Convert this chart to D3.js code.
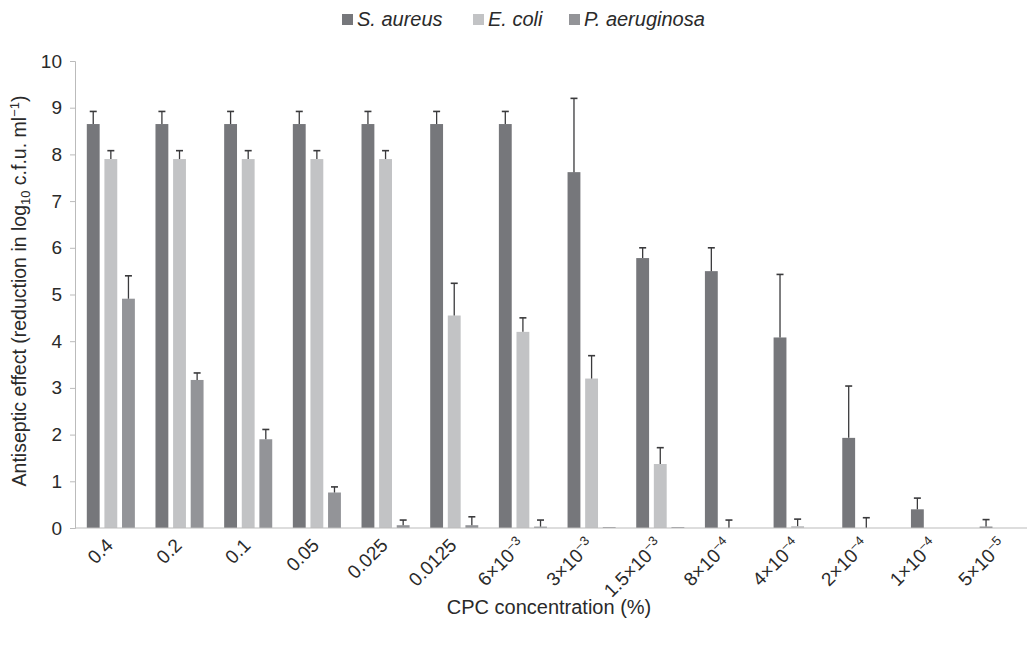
<!DOCTYPE html>
<html><head><meta charset="utf-8">
<script src="https://cdn.jsdelivr.net/npm/d3@7"></script>
<style>body{margin:0;background:#fff;} text{font-family:"Liberation Sans",Arial,sans-serif;}</style>
</head><body>
<svg id="c" width="1027" height="650"></svg>
<script>
const categories = ["0.4","0.2","0.1","0.05","0.025","0.0125","6×10^−3","3×10^−3","1.5×10^−3","8×10^−4","4×10^−4","2×10^−4","1×10^−4","5×10^−5"];
const seriesNames = ["S. aureus","E. coli","P. aeruginosa"];
const sAureus     = [8.65,8.65,8.65,8.65,8.65,8.65,8.65,7.62,5.78,5.5,4.08,1.93,0.4,0.03];
const sAureusErr  = [0.27,0.27,0.27,0.27,0.27,0.27,0.27,1.58,0.22,0.5,1.35,1.11,0.24,0.15];
const eColi       = [7.9,7.9,7.9,7.9,7.9,4.55,4.2,3.2,1.37,0,0.04,0,0,0];
const eColiErr    = [0.18,0.18,0.18,0.18,0.18,0.69,0.3,0.49,0.35,0.17,0.15,0.22,0,0];
const pAeru       = [4.91,3.17,1.9,0.76,0.06,0.06,0.03,0.02,0.02,0,0,0,0,0];
const pAeruErr    = [0.49,0.15,0.21,0.12,0.11,0.18,0.14,0,0,0,0,0,0,0];
const yTicks = [0,1,2,3,4,5,6,7,8,9,10];
const colors = ["#76777b","#c2c3c5","#939498"];

const values = [sAureus, eColi, pAeru];
const errs = [sAureusErr, eColiErr, pAeruErr];

const svg = d3.select("#c");
const x0 = d3.scaleBand().domain(categories).range([76.5,1038]).paddingInner(0.3).paddingOuter(0.15);
const x1 = d3.scaleBand().domain(seriesNames).range([0,x0.bandwidth()]).paddingInner(0.27).paddingOuter(0);
const y = d3.scaleLinear().domain([0,10]).range([528,61]);

// y axis
const yAxis = svg.append("g").attr("transform","translate(75,0)")
  .call(d3.axisLeft(y).tickValues(yTicks).tickSize(5).tickPadding(8));
yAxis.select(".domain").attr("stroke","#bbb");
yAxis.selectAll(".tick line").attr("stroke","#bbb");
yAxis.selectAll(".tick text").attr("font-size",19).attr("fill","#2a2a2a")
  .attr("font-family","Liberation Sans, Arial, sans-serif");

// bars
const groups = svg.append("g").selectAll("g").data(categories).join("g")
  .attr("transform",d=>`translate(${x0(d)},0)`);
seriesNames.forEach((s,si)=>{
  groups.append("rect")
    .attr("x",x1(s)).attr("width",x1.bandwidth())
    .attr("y",(d,i)=>y(values[si][i]))
    .attr("height",(d,i)=>y(0)-y(values[si][i]))
    .attr("fill",colors[si]);
});
// error bars
seriesNames.forEach((s,si)=>{
  const cx = x1(s)+x1.bandwidth()/2;
  groups.each(function(d,i){
    const e = errs[si][i];
    if(!e) return;
    const g = d3.select(this);
    const top = y(values[si][i]+e), bot = y(values[si][i]);
    g.append("line").attr("x1",cx).attr("x2",cx).attr("y1",top).attr("y2",bot)
      .attr("stroke","#3a3a3c").attr("stroke-width",1.3);
    g.append("line").attr("x1",cx-3.5).attr("x2",cx+3.5).attr("y1",top).attr("y2",top)
      .attr("stroke","#3a3a3c").attr("stroke-width",1.6);
  });
});

// x axis line
svg.append("line").attr("x1",75).attr("x2",1027).attr("y1",y(0)).attr("y2",y(0))
  .attr("stroke","#bbb").attr("stroke-width",1.2);

// x tick labels
const xl = svg.append("g").selectAll("text").data(categories).join("text")
  .attr("transform",d=>`translate(${x0(d)+x0.bandwidth()/2-6},537) rotate(-45)`)
  .attr("text-anchor","end").attr("dy","0.7em").attr("font-size",19).attr("fill","#2a2a2a");
xl.each(function(d){
  const t = d3.select(this);
  const parts = d.split("^");
  t.append("tspan").text(parts[0]);
  if(parts[1]){
    t.append("tspan").attr("font-size",13).attr("dy",-7).text(parts[1]);
  }
});

// axis titles
svg.append("text").attr("x",549).attr("y",614).attr("text-anchor","middle")
  .attr("font-size",20).attr("fill","#2a2a2a").text("CPC concentration (%)");
const yt = svg.append("text").attr("transform","translate(26,291) rotate(-90)")
  .attr("text-anchor","middle").attr("font-size",19.5).attr("fill","#2a2a2a");
yt.append("tspan").text("Antiseptic effect (reduction in log");
yt.append("tspan").attr("font-size",13).attr("dy",4).text("10");
yt.append("tspan").attr("dy",-4).text(" c.f.u. ml");
yt.append("tspan").attr("font-size",13).attr("dy",-7).text("−1");
yt.append("tspan").attr("dy",7).text(")");

// legend
const legX = [342,473,569];
const leg = svg.append("g").selectAll("g").data(seriesNames).join("g")
  .attr("transform",(d,i)=>`translate(${legX[i]},0)`);
leg.append("rect").attr("x",0).attr("y",14).attr("width",11).attr("height",11)
  .attr("fill",(d,i)=>colors[i]);
leg.append("text").attr("x",15).attr("y",26).attr("font-size",20).attr("font-style","italic")
  .attr("fill","#2a2a2a").text(d=>d);
</script>
</body></html>
